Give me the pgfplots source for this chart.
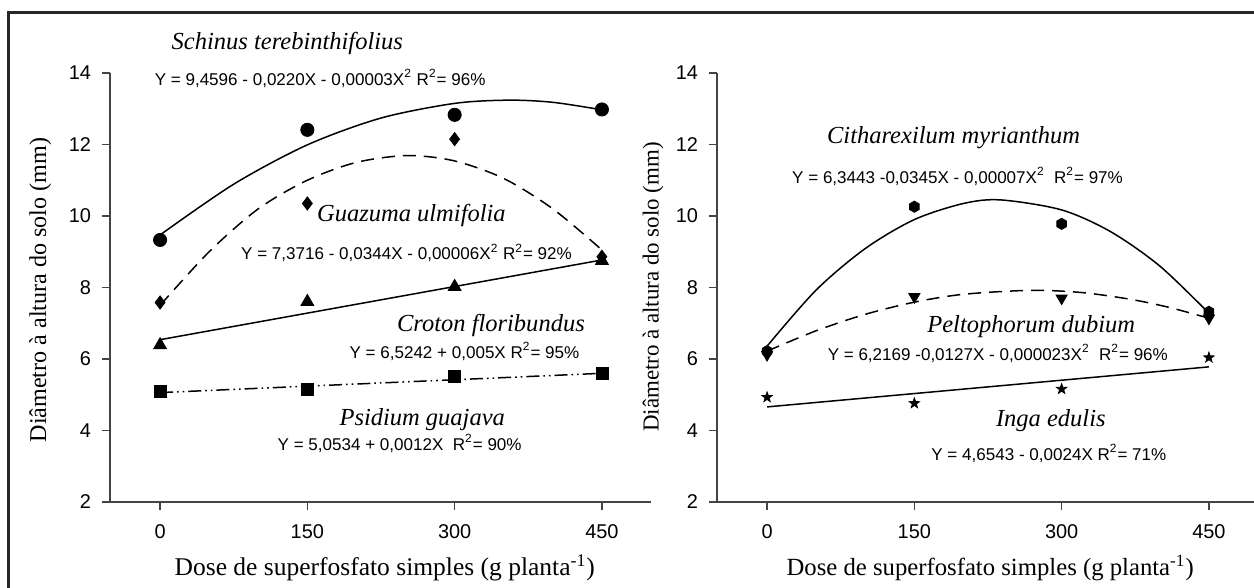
\documentclass[border=0pt]{standalone}
\usepackage{fontspec}
\setmainfont{Liberation Sans}
\newfontfamily\tnr{Liberation Serif}
\usepackage{pgfplots}
\pgfplotsset{compat=1.18}

% filled hexagon and filled five-point star
\pgfdeclareplotmark{hexagon*}{%
  \pgfpathmoveto{\pgfpointpolar{90}{\pgfplotmarksize}}%
  \pgfpathlineto{\pgfpointpolar{150}{\pgfplotmarksize}}%
  \pgfpathlineto{\pgfpointpolar{210}{\pgfplotmarksize}}%
  \pgfpathlineto{\pgfpointpolar{270}{\pgfplotmarksize}}%
  \pgfpathlineto{\pgfpointpolar{330}{\pgfplotmarksize}}%
  \pgfpathlineto{\pgfpointpolar{30}{\pgfplotmarksize}}%
  \pgfpathclose
  \pgfusepathqfillstroke}
\pgfdeclareplotmark{fstar}{%
  \pgfpathmoveto{\pgfpointpolar{90}{\pgfplotmarksize}}%
  \pgfpathlineto{\pgfpointpolar{126}{0.4*\pgfplotmarksize}}%
  \pgfpathlineto{\pgfpointpolar{162}{\pgfplotmarksize}}%
  \pgfpathlineto{\pgfpointpolar{198}{0.4*\pgfplotmarksize}}%
  \pgfpathlineto{\pgfpointpolar{234}{\pgfplotmarksize}}%
  \pgfpathlineto{\pgfpointpolar{270}{0.4*\pgfplotmarksize}}%
  \pgfpathlineto{\pgfpointpolar{306}{\pgfplotmarksize}}%
  \pgfpathlineto{\pgfpointpolar{342}{0.4*\pgfplotmarksize}}%
  \pgfpathlineto{\pgfpointpolar{18}{\pgfplotmarksize}}%
  \pgfpathlineto{\pgfpointpolar{54}{0.4*\pgfplotmarksize}}%
  \pgfpathclose
  \pgfusepathqfillstroke}

\definecolor{axgray}{HTML}{444444}

\pgfplotsset{
  panel/.style={
    scale only axis, width=270.5bp, height=214.5bp,
    xmin=-51, xmax=500, ymin=2, ymax=14,
    axis x line*=bottom, axis y line*=left,
    axis line style={-, draw=axgray, line width=0.7bp},
    xtick={0,150,300,450}, ytick={2,4,...,14},
    tick align=outside, tick style={axgray, line width=0.7bp},
    major tick length=4bp,
    tick label style={font=\fontsize{10}{12}\selectfont},
    yticklabel style={xshift=-2bp},
    xticklabel style={yshift=-4bp},
    /pgf/number format/assume math mode=true,
    clip=false,
    xlabel={Dose de superfosfato simples (g planta\textsuperscript{-1})},
    ylabel={Diâmetro à altura do solo (mm)},
  },
  fit/.style={black, line width=0.75bp, smooth},
  pts/.style={only marks, black, mark options={solid, fill=black}},
}
\tikzset{
  eq/.style={font=\fontsize{8.55}{10}\selectfont, anchor=base, inner sep=0pt},
  sp/.style={font=\tnr\itshape\fontsize{12.3}{14}\selectfont, anchor=base, inner sep=0pt},
}

\begin{document}
\begin{tikzpicture}
\useasboundingbox (0,0) rectangle (627bp,294bp);
\draw[line width=1.5bp, color=black!85] (4bp,-10bp) -- (4bp,287.5bp) -- (640bp,287.5bp);

% left panel
\begin{axis}[panel, at={(55bp,43bp)}, anchor=south west,
  xlabel style={font=\tnr\fontsize{12.8}{14}\selectfont, at={(axis description cs:0.508,-0.154)}, anchor=center},
  ylabel style={font=\tnr\fontsize{12.1}{14}\selectfont, at={(axis description cs:-0.129,0.494)}, anchor=center}]
% Schinus terebinthifolius
\addplot[fit] coordinates {(0,9.47)(75,10.89)(150,11.99)(225,12.74)(300,13.15)(355,13.24)(400,13.18)(450,12.97)};
\addplot[pts, mark=*, mark size=3.3bp] coordinates {(0,9.33)(150,12.41)(300,12.83)(450,12.98)};
% Guazuma ulmifolia
\addplot[fit, dash pattern=on 6.5bp off 4bp] coordinates {(0,7.5)(50,9.0)(100,10.2)(150,11.0)(200,11.5)(252,11.69)(300,11.54)(350,11.05)(400,10.2)(450,9.05)};
\addplot[pts, mark=diamond*, mark size=3.3bp] coordinates {(0,7.58)(150,10.35)(300,12.15)(450,8.86)};
% Croton floribundus
\addplot[fit] coordinates {(0,6.54)(450,8.77)};
\addplot[pts, mark=triangle*, mark size=3.7bp] coordinates {(0,6.39)(150,7.6)(300,8.02)(450,8.75)};
% Psidium guajava
\addplot[fit, dash pattern=on 6.5bp off 2bp on 0.8bp off 2bp on 0.8bp off 2bp] coordinates {(0,5.06)(450,5.6)};
\addplot[pts, mark=square*, mark size=3bp] coordinates {(0,5.09)(150,5.15)(300,5.52)(450,5.6)};

\node[sp] at (axis cs:129.6,14.66) {Schinus terebinthifolius};
\node[eq] at (axis cs:163,13.66) {Y = 9,4596 - 0,0220X - 0,00003X\textsuperscript{2} R\textsuperscript{2}= 96\%};
\node[sp] at (axis cs:256,9.84) {Guazuma ulmifolia};
\node[eq] at (axis cs:251,8.77) {Y = 7,3716 - 0,0344X - 0,00006X\textsuperscript{2} R\textsuperscript{2}= 92\%};
\node[sp] at (axis cs:337,6.76) {Croton floribundus};
\node[eq] at (axis cs:310,6.02) {Y = 6,5242 + 0,005X R\textsuperscript{2}= 95\%};
\node[sp] at (axis cs:267,4.15) {Psidium guajava};
\node[eq] at (axis cs:244,3.45) {Y = 5,0534 + 0,0012X\ \ R\textsuperscript{2}= 90\%};
\end{axis}

% right panel
\begin{axis}[panel, at={(358.5bp,43bp)}, anchor=south west,
  xlabel style={font=\tnr\fontsize{12.4}{14}\selectfont, at={(axis description cs:0.505,-0.154)}, anchor=center},
  ylabel style={font=\tnr\fontsize{11.5}{14}\selectfont, at={(axis description cs:-0.118,0.501)}, anchor=center}]
% Citharexilum myrianthum
\addplot[fit] coordinates {(0,6.36)(50,7.93)(100,9.09)(150,9.9)(200,10.35)(238,10.45)(300,10.17)(350,9.56)(400,8.6)(450,7.28)};
\addplot[pts, mark=hexagon*, mark size=2.8bp] coordinates {(0,6.22)(150,10.26)(300,9.78)(450,7.32)};
% Peltophorum dubium
\addplot[fit, dash pattern=on 6.5bp off 4bp] coordinates {(0,6.22)(50,6.79)(100,7.25)(150,7.59)(200,7.81)(268,7.92)(320,7.86)(370,7.67)(410,7.44)(450,7.14)};
\addplot[pts, mark=triangle*, mark size=3.2bp, mark options={rotate=180}] coordinates {(0,6.12)(150,7.74)(300,7.7)(450,7.14)};
% Inga edulis
\addplot[fit] coordinates {(0,4.66)(450,5.78)};
\addplot[pts, mark=fstar, mark size=2.7bp] coordinates {(0,4.93)(150,4.76)(300,5.16)(450,6.04)};

\node[sp] at (axis cs:190,12.03) {Citharexilum myrianthum};
\node[eq] at (axis cs:194,10.91) {Y = 6,3443 -0,0345X - 0,00007X\textsuperscript{2}\ \ R\textsuperscript{2}= 97\%};
\node[sp] at (axis cs:269,6.74) {Peltophorum dubium};
\node[eq] at (axis cs:235,5.97) {Y = 6,2169 -0,0127X - 0,000023X\textsuperscript{2}\ \ R\textsuperscript{2}= 96\%};
\node[sp] at (axis cs:289,4.11) {Inga edulis};
\node[eq] at (axis cs:287,3.17) {Y = 4,6543 - 0,0024X R\textsuperscript{2}= 71\%};
\end{axis}
\end{tikzpicture}
\end{document}
